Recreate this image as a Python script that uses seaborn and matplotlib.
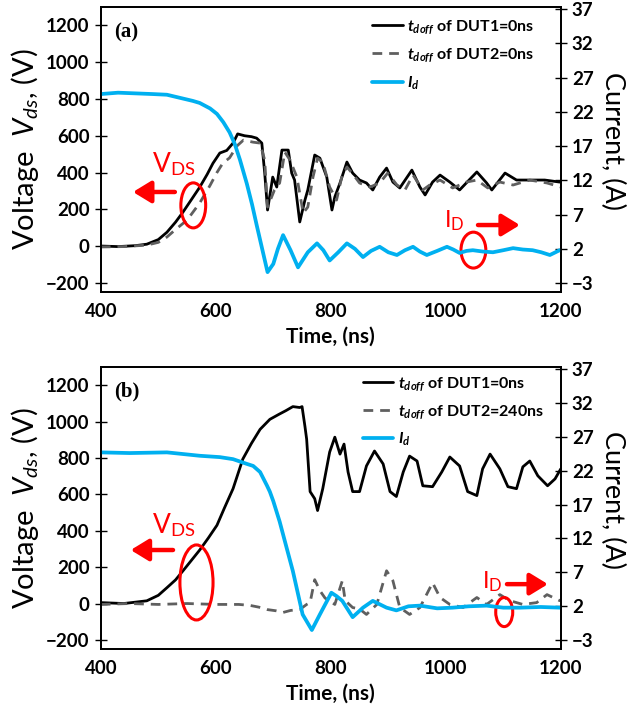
import matplotlib
matplotlib.use("Agg")
import matplotlib.pyplot as plt
from matplotlib.patches import Ellipse
import seaborn as sns

sns.set_theme(style="white")
plt.rcParams["font.family"] = ["Lato", "DejaVu Sans"]
plt.rcParams["mathtext.fontset"] = "custom"
plt.rcParams["mathtext.rm"] = "Lato"
plt.rcParams["mathtext.it"] = "Lato:italic"
plt.rcParams["mathtext.bf"] = "Lato:italic:bold"
for key in ("text.color", "axes.labelcolor", "xtick.color", "ytick.color", "axes.edgecolor"):
    plt.rcParams[key] = "black"

# ---- (a) both devices switched with t_doff = 0 ns ----
t_a_dut1 = [400, 430, 460, 480, 500, 515, 530, 543, 557, 572, 585, 595, 607, 619, 630, 638, 650, 662,
            671, 680, 685, 690, 699, 706, 715, 726, 732, 737, 746, 755, 760, 772, 781, 793, 802, 807,
            816, 828, 838, 850, 862, 873, 885, 897, 908, 920, 941, 955, 964, 977, 990, 1007, 1024,
            1054, 1071, 1080, 1103, 1123, 1146, 1172, 1198, 1200]
v_a_dut1 = [0, -3, 2, 10, 35, 75, 130, 185, 250, 320, 390, 450, 506, 520, 560, 610, 600, 595,
            587, 560, 400, 196, 375, 321, 522, 522, 397, 359, 131, 250, 305, 495, 478, 375, 196, 267,
            343, 457, 397, 359, 343, 305, 375, 424, 348, 316, 413, 321, 278, 348, 386, 348, 305,
            403, 343, 305, 397, 359, 359, 359, 348, 350]

t_a_dut2 = [400, 440, 480, 500, 515, 530, 550, 572, 590, 602, 612, 624, 637, 648, 665, 677, 685, 690,
            702, 711, 720, 729, 741, 752, 760, 769, 777, 786, 798, 810, 819, 828, 837, 850, 868, 885,
            899, 915, 929, 943, 960, 972, 990, 1012, 1036, 1054, 1073, 1094, 1117, 1146, 1176, 1200]
v_a_dut2 = [-5, -3, 5, 20, 49, 90, 141, 234, 330, 400, 450, 480, 545, 576, 565, 560, 468, 212,
            305, 343, 511, 468, 375, 180, 212, 375, 478, 457, 321, 250, 375, 430, 397, 343, 321, 343,
            397, 332, 305, 386, 305, 332, 359, 316, 348, 359, 316, 348, 332, 359, 343, 321]

t_a_id = [400, 430, 460, 490, 515, 540, 560, 572, 590, 602, 613, 624, 633, 642, 654, 663, 671, 682,
          690, 700, 708, 717, 730, 743, 760, 776, 787, 798, 813, 828, 842, 856, 870, 885, 900, 915,
          929, 943, 955, 967, 985, 1002, 1013, 1024, 1036, 1047, 1065, 1082, 1100, 1117, 1134,
          1151, 1166, 1181, 1198, 1200]
i_a_id = [24.6, 24.8, 24.7, 24.6, 24.5, 24.0, 23.6, 23.3, 22.5, 21.7, 20.5, 19.0, 17.3, 15.0, 11.5,
          8.5, 5.5, 1.5, -1.4, -0.2, 2.0, 4.0, 1.8, -0.7, 1.5, 2.8, 1.8, 0.3, 1.5, 2.8, 2.0, 0.8, 1.7,
          2.3, 1.5, 1.1, 1.8, 2.3, 1.6, 1.1, 1.7, 2.3, 1.9, 1.4, 1.7, 1.8, 1.6, 1.5, 1.8, 2.1, 1.9,
          1.8, 1.5, 1.1, 1.8, 1.8]

# ---- (b) DUT2 turn-off delayed by 240 ns ----
t_b_dut1 = [400, 440, 480, 500, 515, 530, 543, 557, 572, 587, 602, 615, 630, 647, 662, 677, 694, 710,
            722, 734, 746, 750, 755, 758, 764, 772, 777, 786, 798, 807, 816, 823, 830, 838, 850, 862,
            876, 891, 903, 914, 926, 937, 950, 960, 977, 993, 1007, 1024, 1038, 1054, 1064, 1077,
            1094, 1108, 1123, 1134, 1146, 1160, 1177, 1190, 1200]
v_b_dut1 = [5, 0, 15, 45, 87, 130, 180, 235, 294, 360, 430, 525, 631, 794, 880, 957, 1012, 1040,
            1060, 1082, 1077, 1082, 974, 903, 615, 576, 511, 631, 832, 914, 821, 876, 723, 615, 615, 756,
            838, 767, 615, 588, 723, 810, 783, 647, 642, 723, 805, 756, 615, 593, 740, 821,
            740, 642, 631, 751, 783, 702, 647, 685, 740]

t_b_dut2 = [400, 450, 500, 550, 600, 640, 659, 675, 689, 705, 717, 730, 746, 758, 764, 772, 781, 790,
            807, 820, 825, 838, 850, 862, 880, 897, 908, 920, 937, 955, 977, 990, 1007, 1030, 1054,
            1071, 1094, 1111, 1134, 1158, 1176, 1198, 1200]
v_b_dut2 = [-5, 0, -5, 0, -5, -5, -10, -20, -33, -40, -49, -38, -33, -5, 5, 131, 71, 30,
            -5, 125, 16, -22, -30, -60, -5, 180, 125, -22, -60, -22, 114, 33, -5, -22, 33,
            -5, 49, 16, -5, 5, 49, 16, 20]

t_b_id = [400, 450, 515, 572, 607, 630, 654, 665, 677, 689, 694, 700, 711, 722, 734, 751, 767, 781,
          801, 810, 820, 838, 856, 873, 897, 914, 935, 955, 985, 1012, 1040, 1071, 1100, 1129, 1165,
          1198, 1200]
i_b_id = [24.7, 24.6, 24.7, 24.2, 24.0, 23.7, 23.0, 22.7, 21.8, 19.8, 18.9, 17.5, 14.5, 11.0, 7.2,
          0.8, -1.5, 0.8, 4.0, 3.5, 2.8, 0.4, 1.8, 2.8, 1.8, 1.4, 2.0, 2.1, 1.7, 1.8, 2.0, 2.1, 1.8,
          1.8, 1.9, 1.8, 1.8]

v_ticks = [-200, 0, 200, 400, 600, 800, 1000, 1200]
i_ticks = [-3, 2, 7, 12, 17, 22, 27, 32, 37]
t_ticks = [400, 600, 800, 1000, 1200]

BLUE = "#00B0F0"
GRAY = "#5f5f5f"
RED = "#FF0000"

fig = plt.figure(figsize=(6.38, 7.07), dpi=100)


def panel(rect, tag, t1, v1, t2, v2, ti, ii, lab2, notes):
    ax = fig.add_axes(rect)
    ax2 = ax.twinx()
    sns.lineplot(x=t1, y=v1, ax=ax, color="black", lw=2.0, estimator=None, sort=False,
                 label=r"$\mathbf{t}_{\mathbf{doff}}$ of DUT1=0ns", legend=False)
    sns.lineplot(x=t2, y=v2, ax=ax, color=GRAY, lw=2.0, estimator=None, sort=False,
                 linestyle=(0, (3.5, 2.5)), label=lab2, legend=False)
    sns.lineplot(x=ti, y=ii, ax=ax2, color=BLUE, lw=2.7, estimator=None, sort=False,
                 label=r"$\mathbf{I}_{\mathbf{d}}$", legend=False)

    ax.set_xlim(400, 1200)
    ax.set_ylim(-250, 1300)
    ax2.set_ylim(-4.3, 37.3)
    ax.set_xticks(t_ticks)
    ax.set_yticks(v_ticks)
    ax2.set_yticks(i_ticks)
    for a in (ax, ax2):
        for s in a.spines.values():
            s.set_color("black")
            s.set_linewidth(1.3)
        a.tick_params(axis="y", direction="inout", length=8, width=1.0, color="black",
                      labelsize=13.5, pad=4)
        for lbl in a.get_yticklabels():
            lbl.set_fontweight("bold")
    ax.tick_params(axis="x", length=0, labelsize=13.5, pad=8)
    for lbl in ax.get_xticklabels():
        lbl.set_fontweight("bold")

    ax.set_xlabel("Time, (ns)", fontsize=15, fontweight="bold", labelpad=5)
    ax.set_ylabel(r"Voltage  $V_{ds}$, (V)", fontsize=21, labelpad=4)
    ax2.set_ylabel("Current, (A)", fontsize=19.5, rotation=270, va="center", ha="center")
    ax2.yaxis.set_label_coords(1.112, 0.53)

    ax.text(0.03, 0.895, tag, transform=ax.transAxes, fontsize=15, fontweight="bold",
            family=["Liberation Serif", "DejaVu Serif"])

    handles = ax.get_lines()[:2] + ax2.get_lines()[:1]
    labels = [h.get_label() for h in handles]
    ax.legend(handles, labels, loc="upper left", bbox_to_anchor=notes["leg"], frameon=False,
              prop={"weight": "bold", "size": 11.5}, handlelength=1.9,
              handletextpad=0.3, labelspacing=notes["lsp"], borderpad=0, borderaxespad=0)

    # V_DS marker, arrow and ring
    vx, vy = notes["vtext"]
    ax.text(vx, vy, r"V$_{\mathrm{DS}}$", transform=ax.transAxes, color=RED, fontsize=19,
            ha="left", va="baseline")
    (tx, ty), (hx, hy) = notes["varrow"]
    ax.annotate("", xy=(hx, hy), xytext=(tx, ty), xycoords="axes fraction",
                arrowprops=dict(arrowstyle="-|>,head_length=0.9,head_width=0.55", color=RED,
                                lw=3.2, shrinkA=0, shrinkB=0))
    cx, cy, w, h = notes["vring"]
    ax.add_patch(Ellipse((cx, cy), w, h, transform=ax.transAxes, fill=False, ec=RED, lw=2.2,
                         zorder=5))

    # I_D marker, arrow and ring
    ix, iy = notes["itext"]
    ax.text(ix, iy, r"I$_{\mathrm{D}}$", transform=ax.transAxes, color=RED, fontsize=17,
            ha="left", va="baseline")
    (tx, ty), (hx, hy) = notes["iarrow"]
    ax.annotate("", xy=(hx, hy), xytext=(tx, ty), xycoords="axes fraction",
                arrowprops=dict(arrowstyle="-|>,head_length=0.9,head_width=0.55", color=RED,
                                lw=3.2, shrinkA=0, shrinkB=0))
    cx, cy, w, h = notes["iring"]
    ax.add_patch(Ellipse((cx, cy), w, h, transform=ax.transAxes, fill=False, ec=RED, lw=2.2,
                         zorder=5))
    return ax


panel([0.158, 0.587, 0.721, 0.403], "(a)", t_a_dut1, v_a_dut1, t_a_dut2, v_a_dut2,
      t_a_id, i_a_id, r"$\mathbf{t}_{\mathbf{doff}}$ of DUT2=0ns",
      dict(leg=(0.59, 0.96), lsp=0.62, vtext=(0.111, 0.42), varrow=((0.161, 0.351), (0.070, 0.351)),
           vring=(0.201, 0.304, 0.054, 0.158), itext=(0.746, 0.228),
           iarrow=((0.820, 0.235), (0.911, 0.235)), iring=(0.810, 0.147, 0.054, 0.126)))

panel([0.158, 0.082, 0.721, 0.399], "(b)", t_b_dut1, v_b_dut1, t_b_dut2, v_b_dut2,
      t_b_id, i_b_id, r"$\mathbf{t}_{\mathbf{doff}}$ of DUT2=240ns",
      dict(leg=(0.57, 0.97), lsp=0.6, vtext=(0.111, 0.411), varrow=((0.157, 0.351), (0.065, 0.351)),
           vring=(0.208, 0.236, 0.072, 0.266), itext=(0.828, 0.216),
           iarrow=((0.883, 0.230), (0.972, 0.230)), iring=(0.877, 0.131, 0.037, 0.103)))

fig.savefig("out.png", dpi=100)
